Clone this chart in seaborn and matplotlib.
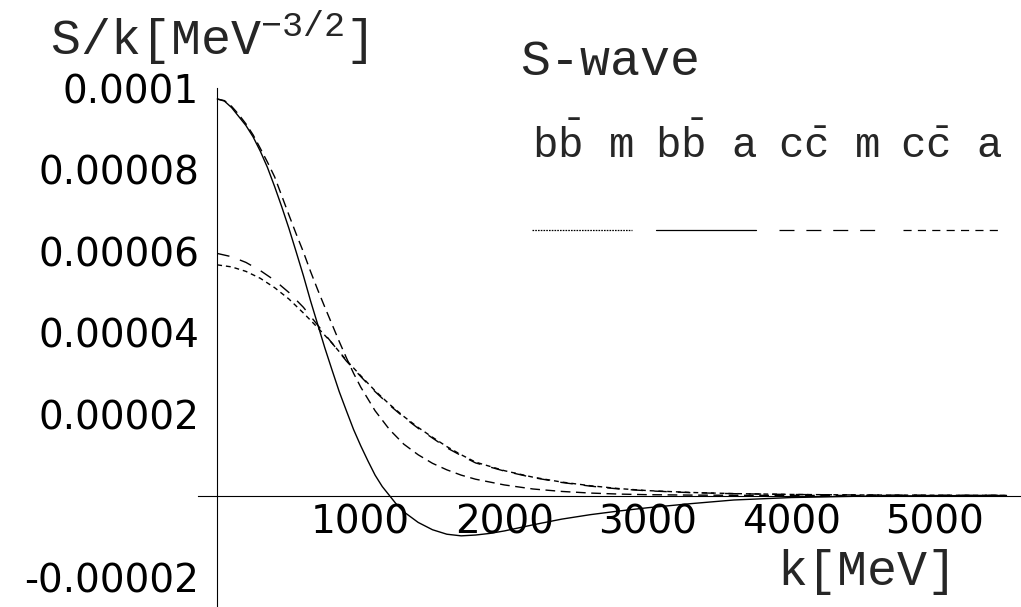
import pandas as pd
import matplotlib
matplotlib.use("Agg")
import matplotlib.pyplot as plt
import matplotlib.ticker as mticker
from matplotlib.lines import Line2D
import seaborn as sns

# ---------------------------------------------------------------------------
# Data: k in MeV, S/k in units of 1e-5 MeV^-3/2
# ---------------------------------------------------------------------------
UNIT = 1e-5

K_BB_A = [0, 50, 100, 150, 200, 250, 300, 350, 400, 450, 500, 550, 600, 650,
          700, 750, 800, 850, 900, 950, 1000, 1050, 1100, 1150, 1200, 1250,
          1300, 1400, 1500, 1600, 1700, 1800, 1900, 2000, 2200, 2400, 2600,
          2800, 3000, 3300, 3600, 4000, 4500, 5000, 5500]
S_BB_A = [9.73, 9.68, 9.52, 9.30, 9.08, 8.80, 8.45, 8.05, 7.58, 7.08, 6.55,
          5.98, 5.40, 4.78, 4.20, 3.62, 3.08, 2.55, 2.08, 1.62, 1.22, 0.85,
          0.50, 0.22, 0.0, -0.22, -0.40, -0.66, -0.84, -0.95, -0.99, -0.97,
          -0.93, -0.87, -0.72, -0.58, -0.47, -0.38, -0.30, -0.20, -0.11,
          -0.05, -0.015, -0.005, 0.0]

K_BB_M = [0, 50, 100, 150, 200, 250, 300, 350, 400, 450, 500, 550, 600, 650,
          700, 750, 800, 850, 900, 950, 1000, 1100, 1200, 1300, 1400, 1500,
          1600, 1700, 1800, 2000, 2200, 2400, 2600, 2800, 3000, 3300, 3600,
          4000, 4500, 5000, 5500]
S_BB_M = [9.73, 9.69, 9.55, 9.35, 9.12, 8.85, 8.52, 8.18, 7.82, 7.35, 6.88,
          6.42, 5.98, 5.50, 5.05, 4.62, 4.20, 3.78, 3.38, 3.00, 2.66, 2.08,
          1.62, 1.26, 1.00, 0.79, 0.63, 0.50, 0.40, 0.26, 0.16, 0.10, 0.06,
          0.035, 0.02, 0.01, 0.005, 0.002, 0.001, 0.0, 0.0]

K_CC = [0, 100, 200, 300, 400, 500, 600, 700, 800, 900, 1000, 1100, 1200,
        1300, 1400, 1500, 1600, 1700, 1800, 2000, 2200, 2400, 2600, 2800,
        3000, 3300, 3600, 4000, 4500, 5000, 5500]
S_CC_M = [5.94, 5.86, 5.72, 5.52, 5.28, 4.98, 4.62, 4.18, 3.74, 3.30, 2.92,
          2.55, 2.22, 1.92, 1.65, 1.41, 1.17, 0.98, 0.80, 0.60, 0.44, 0.32,
          0.23, 0.16, 0.115, 0.07, 0.045, 0.025, 0.012, 0.006, 0.003]
S_CC_A = [5.66, 5.61, 5.50, 5.33, 5.10, 4.82, 4.48, 4.12, 3.74, 3.32, 2.94,
          2.57, 2.24, 1.94, 1.67, 1.43, 1.20, 1.00, 0.82, 0.61, 0.45, 0.33,
          0.24, 0.17, 0.12, 0.075, 0.047, 0.026, 0.013, 0.006, 0.003]

LEGEND_LABELS = [r"b$\bar{\mathrm{b}}$ m", r"b$\bar{\mathrm{b}}$ a",
                 r"c$\bar{\mathrm{c}}$ m", r"c$\bar{\mathrm{c}}$ a"]

X_TICKS = [1000, 2000, 3000, 4000, 5000]
Y_TICKS = [-2e-5, 2e-5, 4e-5, 6e-5, 8e-5, 1e-4]
Y_TICK_LABELS = ["-0.00002", "0.00002", "0.00004", "0.00006", "0.00008", "0.0001"]

# dash patterns as drawn on the curves, and as drawn in the key
CURVE_DASHES = {"bb m": (7, 4), "bb a": "", "cc m": (9, 8), "cc a": (3.5, 2.8)}
KEY_DASHES = [(0, (1.3, 0.9)), "-", (0, (12, 9.5)), (0, (6.5, 5))]

sns.set_style("white")
plt.rcParams["font.family"] = ["DejaVu Sans"]
plt.rcParams["mathtext.fontset"] = "custom"
plt.rcParams["mathtext.rm"] = "Liberation Mono"
plt.rcParams["mathtext.it"] = "Liberation Mono"
plt.rcParams["axes.unicode_minus"] = False

MONO = "Liberation Mono"


def build_frame() -> pd.DataFrame:
    parts = [
        pd.DataFrame({"k": K_BB_M, "S": S_BB_M, "series": "bb m"}),
        pd.DataFrame({"k": K_BB_A, "S": S_BB_A, "series": "bb a"}),
        pd.DataFrame({"k": K_CC, "S": S_CC_M, "series": "cc m"}),
        pd.DataFrame({"k": K_CC, "S": S_CC_A, "series": "cc a"}),
    ]
    df = pd.concat(parts, ignore_index=True)
    df["S"] = df["S"] * UNIT
    return df


def main():
    df = build_frame()

    fig = plt.figure(figsize=(10.21, 6.07), dpi=100)
    ax = fig.add_axes([198 / 1021, 0.0, 823 / 1021, 519 / 607])

    sns.lineplot(data=df, x="k", y="S", style="series", dashes=CURVE_DASHES,
                 color="black", linewidth=1.0, estimator=None, legend=False, ax=ax)

    ax.set_xlim(-134, 5601)
    ax.set_ylim(-2.736e-5, 1.0e-4)

    # Mathematica-style axes crossing at the origin
    for side in ("top", "right"):
        ax.spines[side].set_visible(False)
    ax.spines["left"].set_position(("data", 0))
    ax.spines["bottom"].set_position(("data", 0))
    for side in ("left", "bottom"):
        ax.spines[side].set_linewidth(0.8)
        ax.spines[side].set_color("black")

    ax.xaxis.set_major_locator(mticker.FixedLocator(X_TICKS))
    ax.xaxis.set_major_formatter(mticker.FixedFormatter([str(t) for t in X_TICKS]))
    ax.xaxis.set_minor_locator(mticker.MultipleLocator(200))
    ax.yaxis.set_major_locator(mticker.FixedLocator(Y_TICKS))
    ax.yaxis.set_major_formatter(mticker.FixedFormatter(Y_TICK_LABELS))
    ax.yaxis.set_minor_locator(mticker.MultipleLocator(4e-6))

    ax.tick_params(which="both", direction="in", color="black", width=0.7,
                   labelsize=28, labelcolor="black")
    ax.tick_params(which="major", length=4.5)
    ax.tick_params(which="minor", length=2.3)
    ax.tick_params(axis="x", which="major", pad=6)
    ax.tick_params(axis="y", which="major", pad=13)
    ax.set_xlabel("")
    ax.set_ylabel("")
    ax.grid(False)

    # axis titles, placed as in the original
    fig.text(50 / 1021, 1 - 55 / 607, r"S/k[MeV$^{\mathrm{-3/2}}$]",
             family=MONO, fontsize=36, va="baseline", ha="left")
    fig.text(520 / 1021, 1 - 75 / 607, "S-wave",
             family=MONO, fontsize=36, va="baseline", ha="left")
    fig.text(777 / 1021, 1 - 585 / 607, "k[MeV]",
             family=MONO, fontsize=36, va="baseline", ha="left")

    # key: labels above, line samples below
    key_x = [532, 655, 778, 900]
    for x, lab in zip(key_x, LEGEND_LABELS):
        fig.text(x / 1021, 1 - 158 / 607, lab, family=MONO, fontsize=30.5,
                 va="baseline", ha="left")
    handles = [Line2D([], [], color="black", linewidth=0.9, linestyle=ls)
               for ls in KEY_DASHES]
    fig.legend(handles, [""] * 4, ncol=4, frameon=False, fontsize=10,
               handlelength=7.2, handletextpad=0.0, columnspacing=1.7,
               borderpad=0.0, borderaxespad=0.0, loc="center left",
               bbox_to_anchor=(532 / 1021, 1 - 231 / 607))

    fig.savefig("out.png", dpi=100)
    plt.close(fig)


if __name__ == "__main__":
    main()
